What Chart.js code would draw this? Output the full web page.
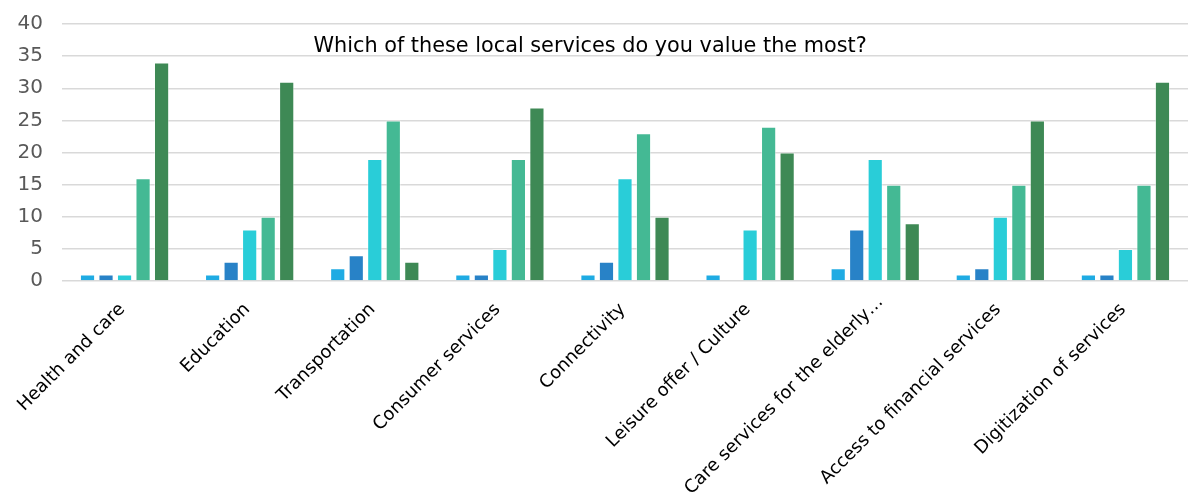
<!DOCTYPE html>
<html>
<head>
<meta charset="utf-8">
<script src="https://cdn.jsdelivr.net/npm/chart.js@4/dist/chart.umd.min.js"></script>
<style>
  html, body { margin: 0; padding: 0; background: #ffffff; }
  #wrap { width: 1189px; height: 499px; position: relative; }
</style>
</head>
<body>
<div id="wrap"><canvas id="chart"></canvas></div>
<script>
// Survey categories
const categories = [
  'Health and care',
  'Education',
  'Transportation',
  'Consumer services',
  'Connectivity',
  'Leisure offer / Culture',
  'Care services for the elderly\u2026',
  'Access to financial services',
  'Digitization of services'
];

// Answer counts per rating level (1 = least valued ... 5 = most valued)
const rating1 = [1, 1, 2, 1, 1, 1, 2, 1, 1];
const rating2 = [1, 3, 4, 1, 3, 0, 8, 2, 1];
const rating3 = [1, 8, 19, 5, 16, 8, 19, 10, 5];
const rating4 = [16, 10, 25, 19, 23, 24, 15, 15, 15];
const rating5 = [34, 31, 3, 27, 10, 20, 9, 25, 31];

const yTicks = [0, 5, 10, 15, 20, 25, 30, 35, 40];
const chartTitle = 'Which of these local services do you value the most?';

const seriesColors = ['#1fabe3', '#2882c7', '#29cdd8', '#44b994', '#3e8955'];
const seriesData = [rating1, rating2, rating3, rating4, rating5];

const FONT = '"DejaVu Sans", sans-serif';

// Title drawn inside the plot area, over the gridlines
const inlineTitle = {
  id: 'inlineTitle',
  afterDatasetsDraw(chart) {
    const { ctx, chartArea, scales } = chart;
    ctx.save();
    ctx.font = '20.8px ' + FONT;
    ctx.fillStyle = '#000000';
    ctx.textAlign = 'center';
    ctx.textBaseline = 'middle';
    const x = chartArea.left + (chartArea.right - chartArea.left) * 0.469;
    const y = scales.y.getPixelForValue(36.45);
    ctx.fillText(chartTitle, x, y);
    ctx.restore();
  }
};

// Category labels at 45 degrees, each ending under its tick; a label that
// would run past the bottom edge slides up along its own direction.
const slantedLabels = {
  id: 'slantedLabels',
  afterDraw(chart) {
    const { ctx, chartArea, scales, height } = chart;
    const xs = scales.x;
    const s = Math.SQRT1_2;
    ctx.save();
    ctx.font = '18px ' + FONT;
    ctx.fillStyle = '#000000';
    ctx.textAlign = 'right';
    ctx.textBaseline = 'alphabetic';
    categories.forEach((label, i) => {
      let ax = xs.getPixelForTick(i) + 1;
      let ay = chartArea.bottom + 29;
      const w = ctx.measureText(label).width;
      const startY = ay + w * s;
      const limit = height - 4;
      if (startY > limit) {
        const shift = startY - limit;
        ax += shift;
        ay -= shift;
      }
      ctx.save();
      ctx.translate(ax, ay);
      ctx.rotate(-Math.PI / 4);
      ctx.fillText(label, 0, 0);
      ctx.restore();
    });
    ctx.restore();
  }
};

new Chart(document.getElementById('chart'), {
  type: 'bar',
  data: {
    labels: categories,
    datasets: seriesData.map((d, i) => ({
      label: 'Rating ' + (i + 1),
      data: d,
      backgroundColor: seriesColors[i],
      borderColor: 'rgba(255,255,255,0.45)',
      borderWidth: 1,
      categoryPercentage: 0.74,
      barPercentage: 0.82
    }))
  },
  options: {
    responsive: true,
    maintainAspectRatio: false,
    animation: false,
    layout: { padding: { top: 0, right: 1, left: 0, bottom: 0 } },
    plugins: {
      legend: { display: false },
      title: { display: false },
      tooltip: { enabled: false }
    },
    scales: {
      x: {
        grid: { display: false },
        border: { display: false },
        ticks: { display: false },
        afterFit(scale) { scale.height = 218; }
      },
      y: {
        min: 0,
        max: 40,
        afterBuildTicks(scale) { scale.ticks = yTicks.map(v => ({ value: v })); },
        grid: { color: '#d9d9d9', lineWidth: 1.5, drawTicks: false },
        border: { display: false },
        ticks: {
          color: '#595959',
          font: { family: FONT, size: 20, lineHeight: 0.5 },
          padding: 19
        },
        afterFit(scale) { scale.width = 62; }
      }
    }
  },
  plugins: [inlineTitle, slantedLabels]
});
</script>
</body>
</html>
